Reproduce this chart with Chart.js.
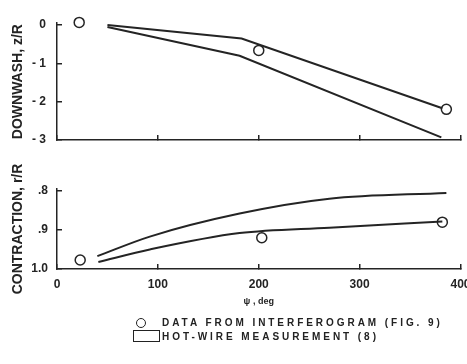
<!DOCTYPE html>
<html>
<head>
<meta charset="utf-8">
<script src="https://cdn.jsdelivr.net/npm/chart.js@4.4.1/dist/chart.umd.min.js"></script>
<style>
    html, body { margin: 0; padding: 0; background: #fff; }
    #wrap { position: relative; width: 467px; height: 364px; overflow: hidden; }
    #wrap canvas { position: absolute; left: 0; top: 0; }
    .legend { position: absolute; font-family: "Liberation Sans", Arial, sans-serif; font-weight: bold;
              font-size: 10px; letter-spacing: 2.95px; color: #222; white-space: nowrap; }
    .mark-circle { position: absolute; width: 8px; height: 8px; border: 1.5px solid #222; border-radius: 50%; }
    .mark-box { position: absolute; width: 25px; height: 10px; border: 1.5px solid #222; }
</style>
</head>
<body>
<div id="wrap">
    <canvas id="downwashChart" width="467" height="364"></canvas>
    <canvas id="contractionChart" width="467" height="364"></canvas>
    <div class="mark-circle" style="left:136px; top:318px;"></div>
    <div class="legend" style="left:162px; top:317px;">DATA FROM INTERFEROGRAM (FIG. 9)</div>
    <div class="mark-box" style="left:133px; top:330px;"></div>
    <div class="legend" style="left:162px; top:331px;">HOT-WIRE MEASUREMENT (8)</div>
</div>
<script>
// --- DATA ---
// interferogram points (open circles)
const psiInterf = [22, 200, 386];
const downwashInterf = [0.07, -0.66, -2.2];
const psiInterfLow = [23, 203, 382];
const contractionInterf = [0.977, 0.92, 0.88];

// hot-wire measurement band, downwash z/R
const psiDownUpper = [50, 183, 382];
const downUpper = [0, -0.35, -2.17];
const psiDownLower = [50, 181, 381];
const downLower = [-0.05, -0.8, -2.93];

// hot-wire measurement band, contraction r/R
const psiConUpper = [40, 92, 181, 270, 386];
const conUpper = [0.967, 0.917, 0.858, 0.82, 0.805];
const psiConLower = [41, 92, 181, 270, 382];
const conLower = [0.982, 0.95, 0.908, 0.894, 0.878];

// tick labels
const psiTicks = [0, 100, 200, 300, 400];
const psiTickLabels = ['0', '100', '200', '300', '400'];
const downTicks = [0, -1, -2, -3];
const downTickLabels = ['0', '- 1', '- 2', '- 3'];
const conTicks = [0.8, 0.9, 1.0];
const conTickLabels = ['.8', '.9', '1.0'];

// --- HELPERS ---
const INK = '#242424';
const FONT = { family: '"Liberation Sans", Arial, sans-serif', weight: 'bold', size: 12 };
const TITLE_FONT = { family: FONT.family, weight: 'bold', size: 14 };

function toPoints(xs, ys) {
    return xs.map((x, i) => ({ x: x, y: ys[i] }));
}

function bandLine(xs, ys, smooth) {
    return {
        data: toPoints(xs, ys),
        showLine: true,
        borderColor: INK,
        borderWidth: 2,
        pointRadius: 0,
        tension: 0,
        cubicInterpolationMode: smooth ? 'monotone' : 'default',
        fill: false
    };
}

function circles(xs, ys) {
    return {
        data: toPoints(xs, ys),
        showLine: false,
        pointRadius: 5,
        pointBorderWidth: 1.5,
        pointBorderColor: INK,
        pointBackgroundColor: '#fff'
    };
}

function labelFrom(values, labels) {
    return (v) => {
        const i = values.findIndex(t => Math.abs(t - v) < 1e-6);
        return i >= 0 ? labels[i] : '';
    };
}

function axisStyle() {
    return {
        drawOnChartArea: false,
        drawTicks: true,
        tickLength: -5,
        color: INK,
        lineWidth: 1.5
    };
}

// keep the x scale from the library's automatic label overflow padding
function fixXHeight(h) {
    return (s) => {
        s.height = h;
        s.paddingLeft = 0;
        s.paddingRight = 0;
    };
}

// --- TOP PANEL : DOWNWASH ---
new Chart(document.getElementById('downwashChart'), {
    type: 'scatter',
    data: {
        datasets: [
            bandLine(psiDownUpper, downUpper, false),
            bandLine(psiDownLower, downLower, false),
            circles(psiInterf, downwashInterf)
        ]
    },
    options: {
        responsive: false,
        animation: false,
        clip: false,
        layout: { padding: { top: 18, left: 0, right: 6, bottom: 224 } },
        plugins: { legend: { display: false }, tooltip: { enabled: false } },
        scales: {
            x: {
                type: 'linear', min: 0, max: 400,
                afterBuildTicks: s => { s.ticks = psiTicks.map(v => ({ value: v })); },
                afterFit: fixXHeight(0),
                ticks: { display: false },
                grid: axisStyle(),
                border: { color: INK, width: 1.5 }
            },
            y: {
                type: 'linear', min: -3, max: 0.05,
                afterBuildTicks: s => { s.ticks = downTicks.map(v => ({ value: v })); },
                afterFit: s => { s.width = 57; },
                ticks: { color: INK, font: FONT, padding: 16, callback: labelFrom(downTicks, downTickLabels) },
                grid: axisStyle(),
                border: { color: INK, width: 1.5 },
                title: { display: true, text: 'DOWNWASH, z/R', color: INK,
                         font: TITLE_FONT, padding: { top: 10, bottom: 0 } }
            }
        }
    }
});

// --- BOTTOM PANEL : CONTRACTION ---
new Chart(document.getElementById('contractionChart'), {
    type: 'scatter',
    data: {
        datasets: [
            bandLine(psiConUpper, conUpper, true),
            bandLine(psiConLower, conLower, true),
            circles(psiInterfLow, contractionInterf)
        ]
    },
    options: {
        responsive: false,
        animation: false,
        clip: false,
        layout: { padding: { top: 189, left: 0, right: 6, bottom: 54 } },
        plugins: { legend: { display: false }, tooltip: { enabled: false } },
        scales: {
            x: {
                type: 'linear', min: 0, max: 400,
                afterBuildTicks: s => { s.ticks = psiTicks.map(v => ({ value: v })); },
                afterFit: fixXHeight(41),
                ticks: { color: INK, font: FONT, padding: 13, maxRotation: 0, callback: labelFrom(psiTicks, psiTickLabels) },
                grid: axisStyle(),
                border: { color: INK, width: 1.5 },
                title: { display: true, text: 'ψ , deg', color: INK, align: 'center',
                         font: { family: FONT.family, weight: 'bold', size: 9 }, padding: { top: 0, bottom: 3 } }
            },
            y: {
                type: 'linear', min: 0.795, max: 1.0, reverse: true,
                afterBuildTicks: s => { s.ticks = conTicks.map(v => ({ value: v })); },
                afterFit: s => { s.width = 57; },
                ticks: { color: INK, font: FONT, padding: 14, callback: labelFrom(conTicks, conTickLabels) },
                grid: axisStyle(),
                border: { color: INK, width: 1.5 },
                title: { display: true, text: 'CONTRACTION, r/R', color: INK,
                         font: TITLE_FONT, padding: { top: 10, bottom: 0 } }
            }
        }
    }
});
</script>
</body>
</html>
